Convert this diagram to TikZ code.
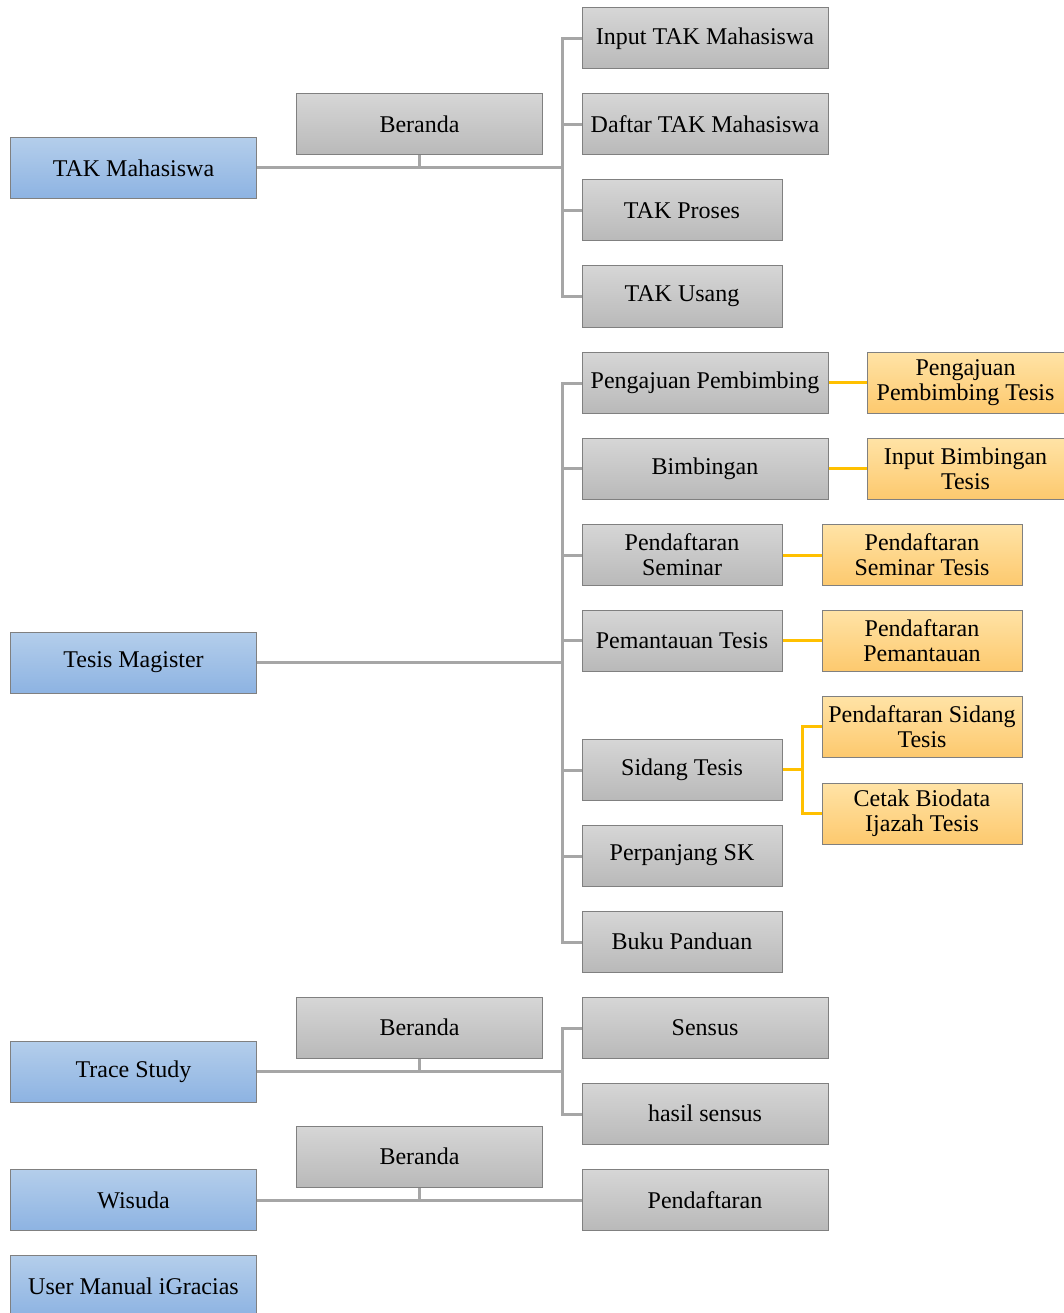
\documentclass[tikz,border=0pt]{standalone}
\usepackage{fontspec}
\setmainfont{Liberation Serif}
\definecolor{linegray}{HTML}{A6A6A6}
\definecolor{edgegray}{HTML}{808080}
\definecolor{gtop}{HTML}{D6D6D6}
\definecolor{gbot}{HTML}{B9B9B9}
\definecolor{btop}{HTML}{B4CEEB}
\definecolor{bbot}{HTML}{8DB3E2}
\definecolor{otop}{HTML}{FFE3A6}
\definecolor{obot}{HTML}{FDC96E}
\definecolor{oline}{HTML}{FFC000}
\begin{document}
\begin{tikzpicture}[x=1pt,y=-1pt,
  box/.style={draw=edgegray, line width=1pt, inner sep=0pt, align=center,
    font=\fontsize{24}{25}\selectfont, minimum height=61pt},
  wide/.style={minimum width=246pt},
  narrow/.style={minimum width=200pt},
  graybox/.style={box, top color=gtop, bottom color=gbot},
  bluebox/.style={box, wide, top color=btop, bottom color=bbot},
  orangebox/.style={box, top color=otop, bottom color=obot},
  gline/.style={draw=linegray, line width=3pt},
  oconn/.style={draw=oline, line width=3pt}]
\useasboundingbox (0,0) rectangle (1064,1313);

% junction points of the menu trees
\coordinate (jtak) at (562,168);
\coordinate (jtesis) at (562,662);
\coordinate (jtrace) at (562,1071);
\coordinate (jsidang) at (802,769.5);

% ---- connectors ----
\draw[gline] (133.5,168) -- (jtak);
\draw[gline] (419,155) -- (419,168);
\draw[gline] (582,39) -| (jtak);
\draw[gline] (582,125) -| (jtak);
\draw[gline] (582,211) -| (jtak);
\draw[gline] (582,297) -| (jtak);

\draw[gline] (257,662) -- (jtesis);
\foreach \yy in {383,468,555,640,770,856,942}
  \draw[gline] (582,\yy) -| (jtesis);

\draw[gline] (257,1071) -- (jtrace);
\draw[gline] (419,1058) -- (419,1071);
\draw[gline] (582,1028) -| (jtrace);
\draw[gline] (582,1114) -| (jtrace);

\draw[gline] (257,1200) -- (582,1200);
\draw[gline] (419,1187) -- (419,1200);

% ---- left column ----
\node[bluebox] (tak) at (133.5,168) {TAK Mahasiswa};
\node[bluebox] (tesis) at (133.5,662.5) {Tesis Magister};
\node[bluebox] (trace) at (133.5,1071.5) {Trace Study};
\node[bluebox] (wisuda) at (133.5,1200) {Wisuda};
\node[bluebox] (manual) at (133.5,1286) {User Manual iGracias};

% ---- Beranda boxes ----
\node[graybox, wide] (ber1) at (419.5,124.5) {Beranda};
\node[graybox, wide] (ber2) at (419.5,1027.5) {Beranda};
\node[graybox, wide] (ber3) at (419.5,1156.5) {Beranda};

% ---- TAK Mahasiswa items ----
\node[graybox, wide] (inputtak) at (705,38.5) {Input TAK Mahasiswa};
\node[graybox, wide] (daftartak) at (705,124.5) {Daftar TAK Mahasiswa};
\node[graybox, narrow] (takproses) at (682,210.5) {TAK Proses};
\node[graybox, narrow] (takusang) at (682,296.5) {TAK Usang};

% ---- Tesis Magister items ----
\node[graybox, wide] (pengajuan) at (705,382.5) {Pengajuan Pembimbing};
\node[graybox, wide] (bimbingan) at (705,468.5) {Bimbingan};
\node[graybox, narrow] (seminar) at (682,555) {Pendaftaran\\Seminar};
\node[graybox, narrow] (pemantauan) at (682,640.5) {Pemantauan Tesis};
\node[graybox, narrow] (sidang) at (682,769.5) {Sidang Tesis};
\node[graybox, narrow] (perpanjang) at (682,855.5) {Perpanjang SK};
\node[graybox, narrow] (panduan) at (682,941.5) {Buku Panduan};

% ---- Trace Study / Wisuda items ----
\node[graybox, wide] (sensus) at (705,1027.5) {Sensus};
\node[graybox, wide] (hasil) at (705,1113.5) {hasil sensus};
\node[graybox, wide] (daftarwisuda) at (705,1200) {Pendaftaran};

% ---- thesis sub-pages ----
\node[orangebox, minimum width=197pt] (pengajuantesis) at (965.5,382.5) {Pengajuan\\Pembimbing Tesis};
\node[orangebox, minimum width=197pt] (inputbimb) at (965.5,468.5) {Input Bimbingan\\Tesis};
\node[orangebox, narrow] (seminartesis) at (922,555) {Pendaftaran\\Seminar Tesis};
\node[orangebox, narrow] (daftarpemantauan) at (922,640.5) {Pendaftaran\\Pemantauan};
\node[orangebox, narrow] (daftarsidang) at (922,726.5) {Pendaftaran Sidang\\Tesis};
\node[orangebox, narrow] (cetak) at (922,813.5) {Cetak Biodata\\Ijazah Tesis};

% ---- orange connectors ----
\draw[oconn] (pengajuan.east) -- (pengajuantesis.west);
\draw[oconn] (bimbingan.east) -- (inputbimb.west);
\draw[oconn] (seminar.east) -- (seminartesis.west);
\draw[oconn] (pemantauan.east) -- (daftarpemantauan.west);
\draw[oconn] (sidang.east) -- (jsidang);
\draw[oconn] (daftarsidang.west) -| (jsidang);
\draw[oconn] (cetak.west) -| (jsidang);
\end{tikzpicture}
\end{document}
